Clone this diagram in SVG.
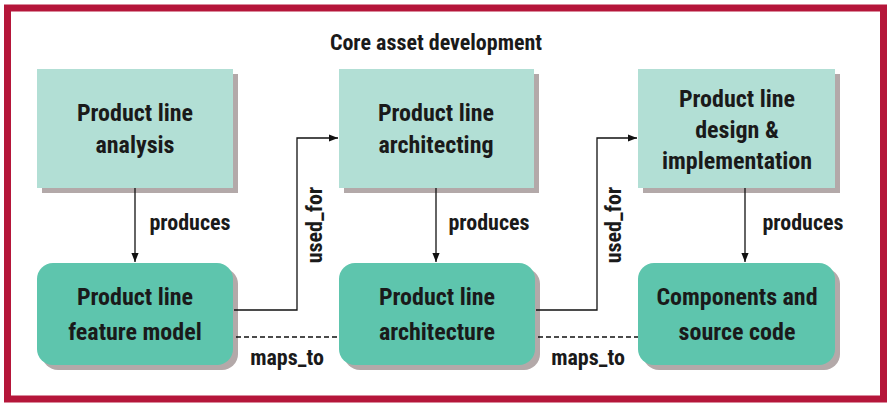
<svg xmlns="http://www.w3.org/2000/svg" width="892" height="408" viewBox="0 0 892 408">
<defs>
<style>
text{font-family:"Liberation Sans Narrow","Roboto Condensed","Liberation Sans",sans-serif;font-weight:bold;fill:#1a1a1a;text-anchor:middle}
.t{font-size:24px}
.l{font-size:22px}
.top{fill:#b2dfd5}
.bot{fill:#5ec5ad}
.sh{fill:#b3a9a9}
.c{stroke:#111;stroke-width:1.3;fill:none}
.d{stroke:#111;stroke-width:1.3;fill:none;stroke-dasharray:5,3}
</style>
<marker id="a" viewBox="0 0 10 10" refX="10" refY="5" markerWidth="9" markerHeight="9" orient="auto" markerUnits="userSpaceOnUse"><path d="M0,1 L10,5 L0,9 Z" fill="#111"/></marker>
</defs>
<rect x="0" y="0" width="892" height="408" fill="#fff"/>
<rect x="7.5" y="8" width="876" height="391" fill="none" stroke="#b5163a" stroke-width="7"/>
<text x="436" y="50" class="l" style="font-size:22px">Core asset development</text>
<g id="n1"><rect class="sh" x="42" y="74" width="196" height="119"/><rect class="top" x="37" y="69" width="196" height="119"/><text class="t" x="135" y="121">Product line</text><text class="t" x="135" y="153">analysis</text></g>
<g id="n2"><rect class="sh" x="344" y="74" width="195" height="119"/><rect class="top" x="339" y="69" width="195" height="119"/><text class="t" x="436" y="121">Product line</text><text class="t" x="436" y="153">architecting</text></g>
<g id="n3"><rect class="sh" x="643" y="74" width="197" height="119"/><rect class="top" x="638" y="69" width="197" height="119"/><text class="t" x="737" y="107">Product line</text><text class="t" x="737" y="138">design &amp;</text><text class="t" x="737" y="169">implementation</text></g>
<g id="n4"><rect class="sh" x="42" y="268" width="196" height="102" rx="16"/><rect class="bot" x="37" y="263" width="196" height="102" rx="16"/><text class="t" x="135" y="305">Product line</text><text class="t" x="135" y="340">feature model</text></g>
<g id="n5"><rect class="sh" x="344" y="268" width="196" height="102" rx="16"/><rect class="bot" x="339" y="263" width="196" height="102" rx="16"/><text class="t" x="437" y="305">Product line</text><text class="t" x="437" y="340">architecture</text></g>
<g id="n6"><rect class="sh" x="643" y="268" width="197" height="102" rx="16"/><rect class="bot" x="638" y="263" width="197" height="102" rx="16"/><text class="t" x="737" y="305">Components and</text><text class="t" x="737" y="340">source code</text></g>
<g id="connectors">
<path class="c" d="M135,188 V262" marker-end="url(#a)"/>
<path class="c" d="M436,188 V262" marker-end="url(#a)"/>
<path class="c" d="M745,188 V262" marker-end="url(#a)"/>
<path class="c" d="M234,310 H297 V138 H338" marker-end="url(#a)"/>
<path class="c" d="M536,310 H597 V138 H637" marker-end="url(#a)"/>
<path class="d" d="M236,337 H339"/>
<path class="d" d="M538,337 H638"/>
<text class="l" x="190" y="230">produces</text>
<text class="l" x="489" y="230">produces</text>
<text class="l" x="803" y="230">produces</text>
<text class="l" x="287" y="365">maps_to</text>
<text class="l" x="588" y="365">maps_to</text>
<text class="l" transform="translate(322,225) rotate(-90)">used_for</text>
<text class="l" transform="translate(621,225) rotate(-90)">used_for</text>
</g>
</svg>
